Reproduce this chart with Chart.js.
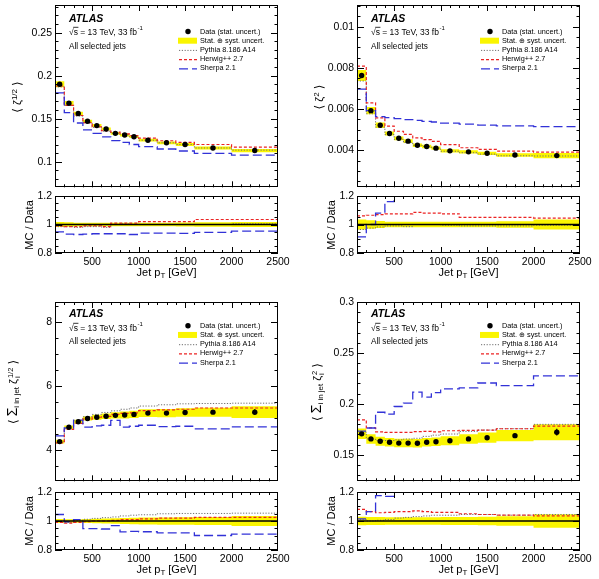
<!DOCTYPE html>
<html><head><meta charset="utf-8">
<script src="https://cdn.jsdelivr.net/npm/chart.js@4.4.0/dist/chart.umd.min.js"></script>
<style>
html,body{margin:0;padding:0;background:#fff;width:599px;height:579px;overflow:hidden;position:relative;font-family:"Liberation Sans",Arial,Helvetica,sans-serif;}
canvas{position:absolute;display:block}
.t{position:absolute;white-space:nowrap;font-size:11px;color:#000;transform:translate(-50%,-50%);line-height:1}
.r{transform:translate(-50%,-50%) rotate(-90deg);}
.t sub{font-size:72%;vertical-align:-0.3em;line-height:0}
.t sup{font-size:72%;vertical-align:0.5em;line-height:0}
.ang{font-family:"DejaVu Sans",sans-serif;font-size:12px}
.big{font-size:14px}
.stk{display:inline-flex;flex-direction:column;vertical-align:middle;font-size:7.5px;line-height:7.5px;text-align:left;margin-left:1px}
</style></head><body>
<script>
// ---------------- DATA ----------------
const ptEdges = [100,200,300,400,500,600,700,800,900,1000,1200,1400,1600,2000,2500];
const xTickValues = [500,1000,1500,2000,2500];
const ratioTickValues = [0.8,1,1.2];

// <zeta^{1/2}>
const zetaHalfTicks = [0.1,0.15,0.2,0.25];
const zetaHalfData = [0.190,0.168,0.156,0.147,0.142,0.138,0.133,0.131,0.129,0.125,0.122,0.120,0.116,0.113];
const zetaHalfStat = [0.0005,0.0004,0.0004,0.0004,0.0004,0.0004,0.0004,0.0004,0.0004,0.0004,0.0004,0.0005,0.0006,0.0008];
const zetaHalfUnc = [0.018,0.015,0.013,0.013,0.012,0.012,0.012,0.012,0.012,0.013,0.013,0.014,0.015,0.017];
const zetaHalfPythia = [0.187,0.1655,0.153,0.145,0.140,0.1355,0.133,0.1315,0.129,0.125,0.122,0.120,0.116,0.1135];
const zetaHalfHerwig = [0.188,0.1655,0.1537,0.1455,0.1406,0.136,0.1343,0.1323,0.1303,0.1275,0.1244,0.1224,0.120,0.117];
const zetaHalfSherpa = [0.180,0.157,0.145,0.137,0.133,0.129,0.1245,0.1225,0.120,0.1175,0.1148,0.1125,0.1096,0.1077];
const zetaHalfRatioPythia = [0.985,0.985,0.98,0.985,0.985,0.98,1.0,1.005,1.0,1.0,1.0,1.0,1.0,1.005];
const zetaHalfRatioHerwig = [0.99,0.985,0.985,0.99,0.99,0.985,1.01,1.01,1.01,1.02,1.02,1.02,1.035,1.035];
const zetaHalfRatioSherpa = [0.948,0.932,0.93,0.932,0.935,0.935,0.935,0.935,0.93,0.94,0.94,0.938,0.945,0.953];

// <zeta^2>
const zetaSqTicks = [0.004,0.006,0.008,0.01];
const zetaSqData = [0.00763,0.00592,0.00521,0.00481,0.00458,0.00444,0.00424,0.00418,0.0041,0.00397,0.00392,0.00385,0.00377,0.00374];
const zetaSqStat = [0.00003,0.00002,0.00002,0.00002,0.00002,0.00002,0.00002,0.00002,0.00002,0.00002,0.00002,0.00002,0.00003,0.00004];
const zetaSqUnc = [0.035,0.03,0.025,0.02,0.02,0.02,0.02,0.02,0.02,0.02,0.02,0.02,0.022,0.035];
const zetaSqPythia = [0.00736,0.00577,0.00512,0.00476,0.00453,0.00437,0.00424,0.00418,0.0041,0.00395,0.00388,0.00381,0.00373,0.00372];
const zetaSqHerwig = [0.00808,0.0063,0.00557,0.00517,0.00492,0.00477,0.0046,0.00451,0.00443,0.00427,0.00412,0.00404,0.00396,0.00391];
const zetaSqSherpa = [0.00697,0.00592,0.00563,0.00558,0.00553,0.00549,0.00545,0.0054,0.00537,0.00532,0.00527,0.00522,0.00518,0.00515];
const zetaSqRatioPythia = [0.965,0.975,0.983,0.99,0.99,0.985,1.0,1.0,1.0,0.995,0.99,0.99,0.99,0.995];
const zetaSqRatioHerwig = [1.06,1.065,1.07,1.075,1.075,1.075,1.085,1.08,1.08,1.075,1.05,1.05,1.05,1.045];
const zetaSqRatioSherpa = [0.913,1.0,1.08,1.16,1.207,1.236,1.285,1.292,1.31,1.34,1.344,1.356,1.374,1.377];

// <sum_i zeta_i^{1/2}>
const sumHalfTicks = [4,6,8];
const sumHalfData = [4.27,4.72,4.89,4.99,5.03,5.06,5.09,5.10,5.12,5.16,5.16,5.18,5.19,5.19];
const sumHalfStat = [0.02,0.015,0.015,0.015,0.015,0.015,0.015,0.015,0.015,0.02,0.025,0.03,0.04,0.09];
const sumHalfUnc = [0.013,0.012,0.012,0.013,0.015,0.017,0.019,0.021,0.022,0.024,0.025,0.026,0.027,0.035];
const sumHalfPythia = [4.27,4.67,4.92,5.05,5.12,5.18,5.23,5.28,5.32,5.38,5.42,5.45,5.46,5.47];
const sumHalfHerwig = [4.23,4.65,4.84,4.97,5.03,5.06,5.12,5.15,5.17,5.24,5.26,5.28,5.32,5.32];
const sumHalfSherpa = [4.45,4.70,4.94,4.72,4.76,4.78,4.93,4.72,4.75,4.78,4.74,4.75,4.67,4.73];
const sumHalfRatioPythia = [1.0,0.99,1.005,1.012,1.018,1.023,1.028,1.035,1.04,1.043,1.05,1.052,1.052,1.054];
const sumHalfRatioHerwig = [0.99,0.985,0.99,0.995,1.0,1.0,1.005,1.01,1.01,1.015,1.02,1.02,1.025,1.025];
const sumHalfRatioSherpa = [1.045,0.995,1.01,0.947,0.947,0.945,0.968,0.925,0.928,0.926,0.918,0.918,0.9,0.91];

// <sum_i zeta_i^2>
const sumSqTicks = [0.15,0.2,0.25,0.3];
const sumSqData = [0.1706,0.1656,0.1633,0.1624,0.1615,0.1615,0.1614,0.1624,0.1628,0.1638,0.1656,0.1668,0.1688,0.1722];
const sumSqStat = [0.0006,0.0005,0.0005,0.0005,0.0005,0.0005,0.0005,0.0005,0.0005,0.0006,0.0007,0.0009,0.0012,0.0033];
const sumSqUnc = [0.03,0.028,0.027,0.026,0.026,0.026,0.026,0.026,0.026,0.027,0.028,0.03,0.033,0.046];
const sumSqPythia = [0.1723,0.1656,0.1641,0.164,0.1647,0.1655,0.1662,0.1681,0.1693,0.1704,0.173,0.1743,0.1756,0.1799];
const sumSqHerwig = [0.1843,0.1764,0.1726,0.1721,0.172,0.172,0.1727,0.173,0.1726,0.1736,0.1739,0.1743,0.1756,0.1782];
const sumSqSherpa = [0.1732,0.1763,0.1918,0.190,0.1974,0.2007,0.2115,0.2066,0.211,0.2148,0.2158,0.2205,0.218,0.2275];
const sumSqRatioPythia = [1.01,1.0,1.005,1.01,1.02,1.025,1.03,1.035,1.04,1.04,1.045,1.045,1.04,1.045];
const sumSqRatioHerwig = [1.08,1.065,1.057,1.06,1.065,1.065,1.07,1.065,1.06,1.06,1.05,1.045,1.04,1.035];
const sumSqRatioSherpa = [1.015,1.065,1.175,1.17,1.222,1.243,1.31,1.272,1.296,1.311,1.303,1.322,1.291,1.321];

const legendLabels = ['Data (stat. uncert.)','Stat. \u2295 syst. uncert.','Pythia 8.186 A14','Herwig++ 2.7','Sherpa 2.1'];

// ---------------- STYLE / LAYOUT ----------------
const FONT = '"Liberation Sans", Arial, Helvetica, sans-serif';
const Y_W = 50, PAD_T = 8, PAD_R = 16, X_H = 30, AREA_W = 223;
const YEL = 'rgb(250,245,0)';
const STY = {
  py:{borderColor:'#6e6e6e', borderWidth:1, borderDash:[1.2,1.6]},
  hw:{borderColor:'rgb(235,35,35)', borderWidth:1.2, borderDash:[3,2]},
  sh:{borderColor:'rgb(50,50,215)', borderWidth:1.3, borderDash:[9,4]}
};

const panels = [
  {left:55, mainTop:5, mainH:183, ratioTop:196, ratioH:57, yMin:0.0703, yMax:0.2821, yMajor:0.05, yMinor:0.01,
   ticks:zetaHalfTicks, data:zetaHalfData, stat:zetaHalfStat, unc:zetaHalfUnc, py:zetaHalfPythia, hw:zetaHalfHerwig, sh:zetaHalfSherpa,
   rpy:zetaHalfRatioPythia, rhw:zetaHalfRatioHerwig, rsh:zetaHalfRatioSherpa, annY:[14,27.3,41.7], legY0:26.5, legDY:9.2,
   title:'<span class="ang">\u27E8</span> \u03B6<sup>1/2</sup> <span class="ang">\u27E9</span>', titleDX:-38},
  {left:357, mainTop:5, mainH:183, ratioTop:196, ratioH:57, yMin:0.0022, yMax:0.01105, yMajor:0.002, yMinor:0.0005,
   ticks:zetaSqTicks, data:zetaSqData, stat:zetaSqStat, unc:zetaSqUnc, py:zetaSqPythia, hw:zetaSqHerwig, sh:zetaSqSherpa,
   rpy:zetaSqRatioPythia, rhw:zetaSqRatioHerwig, rsh:zetaSqRatioSherpa, annY:[14,27.3,41.7], legY0:26.5, legDY:9.2,
   title:'<span class="ang">\u27E8</span> \u03B6<sup>2</sup> <span class="ang">\u27E9</span>', titleDX:-38},
  {left:55, mainTop:302, mainH:180, ratioTop:492, ratioH:58, yMin:3.03, yMax:8.63, yMajor:2, yMinor:0.5,
   ticks:sumHalfTicks, data:sumHalfData, stat:sumHalfStat, unc:sumHalfUnc, py:sumHalfPythia, hw:sumHalfHerwig, sh:sumHalfSherpa,
   rpy:sumHalfRatioPythia, rhw:sumHalfRatioHerwig, rsh:sumHalfRatioSherpa, annY:[12,26.3,39.7], legY0:23.7, legDY:9.25,
   title:'<span class="ang">\u27E8</span> <span class="big">\u03A3</span><sub>i in jet</sub> \u03B6<span class="stk"><span>1/2</span><span>i</span></span> <span class="ang">\u27E9</span>', titleDX:-42},
  {left:357, mainTop:302, mainH:180, ratioTop:492, ratioH:58, yMin:0.124, yMax:0.3, yMajor:0.05, yMinor:0.01,
   ticks:sumSqTicks, data:sumSqData, stat:sumSqStat, unc:sumSqUnc, py:sumSqPythia, hw:sumSqHerwig, sh:sumSqSherpa,
   rpy:sumSqRatioPythia, rhw:sumSqRatioHerwig, rsh:sumSqRatioSherpa, annY:[12,26.3,39.7], legY0:23.7, legDY:9.25,
   title:'<span class="ang">\u27E8</span> <span class="big">\u03A3</span><sub>i in jet</sub> \u03B6<span class="stk"><span>2</span><span>i</span></span> <span class="ang">\u27E9</span>', titleDX:-40}
];

// ---------------- HELPERS ----------------
const binCenters = ptEdges.slice(0,-1).map((e,i)=>(e+ptEdges[i+1])/2);
const ones = binCenters.map(()=>1);
function stepPts(vals){ const p=[]; vals.forEach((v,i)=>{ p.push({x:ptEdges[i],y:v},{x:ptEdges[i+1],y:v}); }); return p; }
function bandPts(center, unc){
  const up=[], lo=[];
  center.forEach((c,i)=>{
    up.push({x:ptEdges[i],y:c*(1+unc[i])},{x:ptEdges[i+1],y:c*(1+unc[i])});
    lo.push({x:ptEdges[i],y:c*(1-unc[i])},{x:ptEdges[i+1],y:c*(1-unc[i])});
  });
  return up.concat(lo.reverse());
}
function lineDS(vals, sty, order){ return Object.assign({type:'line', data:stepPts(vals), pointRadius:0, fill:false, tension:0, clip:0, order:order}, sty); }
function bandDS(center, unc){ return {type:'line', data:bandPts(center,unc), pointRadius:0, fill:'shape', backgroundColor:YEL, borderColor:'rgba(0,0,0,0)', borderWidth:0, tension:0, clip:0, order:10}; }

function makeCanvas(areaLeft, areaTop, areaH, bottomExtra){
  const c = document.createElement('canvas');
  const w = Y_W + AREA_W + PAD_R, h = PAD_T + areaH + bottomExtra;
  c.width = w; c.height = h;
  c.style.left = (areaLeft - Y_W) + 'px'; c.style.top = (areaTop - PAD_T) + 'px';
  c.style.width = w + 'px'; c.style.height = h + 'px';
  document.body.appendChild(c);
  return c;
}
function addText(html, x, y, rot){
  const d = document.createElement('div');
  d.className = 't' + (rot ? ' r' : '');
  d.innerHTML = html; d.style.left = x + 'px'; d.style.top = y + 'px';
  document.body.appendChild(d);
}

function framePlugin(cfg){
  return { id:'frame', afterDatasetsDraw(chart){
    const {ctx, chartArea:a, scales:{x,y}} = chart;
    ctx.save(); ctx.strokeStyle='#000'; ctx.lineWidth=1; ctx.setLineDash([]);
    ctx.beginPath();
    for (let v=200; v<2500; v+=100){
      const len = (v%500===0) ? cfg.xMaj : cfg.xMin;
      const px = Math.round(x.getPixelForValue(v)) + 0.5;
      ctx.moveTo(px, a.bottom); ctx.lineTo(px, a.bottom-len);
      ctx.moveTo(px, a.top); ctx.lineTo(px, a.top+len);
    }
    const k0 = Math.ceil(y.min/cfg.yMinor - 1e-6), k1 = Math.floor(y.max/cfg.yMinor + 1e-6);
    for (let k=k0; k<=k1; k++){
      const v = k*cfg.yMinor;
      const r = v/cfg.yMajor; const maj = Math.abs(r-Math.round(r))<1e-6;
      const len = maj ? cfg.yMaj : cfg.yMin;
      const py = Math.round(y.getPixelForValue(v)) + 0.5;
      ctx.moveTo(a.left, py); ctx.lineTo(a.left+len, py);
      ctx.moveTo(a.right, py); ctx.lineTo(a.right-len, py);
    }
    ctx.stroke();
    ctx.strokeRect(Math.round(a.left)+0.5, Math.round(a.top)+0.5, Math.round(a.right-a.left)-1, Math.round(a.bottom-a.top)-1);
    ctx.restore();
  }};
}
function errPlugin(vals, errs){
  return { id:'errs', afterDatasetsDraw(chart){
    const {ctx, scales:{x,y}} = chart;
    ctx.save(); ctx.strokeStyle='#000'; ctx.lineWidth=1.2; ctx.setLineDash([]);
    ctx.beginPath();
    vals.forEach((v,i)=>{
      const px = x.getPixelForValue(binCenters[i]);
      ctx.moveTo(px, y.getPixelForValue(v+errs[i])); ctx.lineTo(px, y.getPixelForValue(v-errs[i]));
    });
    ctx.stroke(); ctx.restore();
  }};
}
function annPlugin(p){
  return { id:'ann', afterDraw(chart){
    const {ctx, chartArea:a} = chart;
    ctx.save(); ctx.fillStyle='#000'; ctx.strokeStyle='#000'; ctx.textBaseline='middle'; ctx.textAlign='left';
    const x0 = a.left + 14;
    ctx.font = 'italic bold 10.5px ' + FONT; ctx.fillText('ATLAS', x0, a.top + p.annY[0]);
    ctx.font = '8.5px ' + FONT;
    let x = x0; const y = a.top + p.annY[1];
    ctx.fillText('\u221A', x, y); x += ctx.measureText('\u221A').width;
    ctx.fillText('s', x, y); const sw = ctx.measureText('s').width;
    ctx.beginPath(); ctx.lineWidth = 0.8; ctx.moveTo(x-0.5, y-5); ctx.lineTo(x+sw+0.5, y-5); ctx.stroke();
    x += sw;
    const t = ' = 13 TeV, 33 fb'; ctx.fillText(t, x, y); x += ctx.measureText(t).width;
    ctx.font = '6px ' + FONT; ctx.fillText('-1', x+0.5, y-3.5);
    ctx.font = '8.2px ' + FONT; ctx.fillText('All selected jets', x0, a.top + p.annY[2]);
    // legend
    ctx.font = '7.3px ' + FONT;
    const lx = a.left + 145;
    legendLabels.forEach((lab,i)=>{
      const ly = a.top + p.legY0 + i*p.legDY;
      ctx.save();
      if (i===0){ ctx.beginPath(); ctx.arc(a.left+133, ly, 2.7, 0, Math.PI*2); ctx.fillStyle='#000'; ctx.fill(); }
      else if (i===1){ ctx.fillStyle = YEL; ctx.fillRect(a.left+123, ly-3, 19, 6); }
      else {
        const s = [STY.py, STY.hw, STY.sh][i-2];
        ctx.strokeStyle = s.borderColor; ctx.lineWidth = s.borderWidth; ctx.setLineDash(s.borderDash);
        ctx.beginPath(); ctx.moveTo(a.left+124, ly+0.5); ctx.lineTo(a.left+142, ly+0.5); ctx.stroke();
      }
      ctx.restore();
      ctx.fillText(lab, lx, ly);
    });
    ctx.restore();
  }};
}

function yScale(min, max, tickVals){
  return { type:'linear', min:min, max:max, bounds:'data',
    afterBuildTicks: s => { s.ticks = tickVals.map(v=>({value:v})); },
    ticks:{ color:'#000', font:{family:FONT, size:10.5}, padding:3, autoSkip:false, callback:(v)=>String(v) },
    grid:{display:false, drawTicks:false}, border:{display:false},
    afterFit: s => { s.width = Y_W; s.paddingTop = 0; s.paddingBottom = 0; } };
}

Chart.defaults.font.family = FONT;

panels.forEach(p=>{
  // main panel
  const cm = makeCanvas(p.left, p.mainTop, p.mainH, 2);
  new Chart(cm, {
    type:'line',
    data:{ datasets:[
      {type:'line', data:binCenters.map((x,i)=>({x:x, y:p.data[i]})), showLine:false, pointRadius:2.7, pointHoverRadius:2.7,
       pointBackgroundColor:'#000', pointBorderColor:'#000', pointBorderWidth:0, order:0, clip:0},
      lineDS(p.py, STY.py, 3), lineDS(p.hw, STY.hw, 2), lineDS(p.sh, STY.sh, 1),
      bandDS(p.data, p.unc)
    ]},
    options:{ responsive:false, animation:false, devicePixelRatio:1, events:[],
      layout:{padding:{left:0, right:PAD_R, top:PAD_T, bottom:2}},
      plugins:{legend:{display:false}, tooltip:{enabled:false}},
      scales:{ x:{type:'linear', min:100, max:2500, display:false}, y:yScale(p.yMin, p.yMax, p.ticks) } },
    plugins:[ errPlugin(p.data, p.stat), framePlugin({xMaj:6, xMin:3, yMaj:7, yMin:3.5, yMajor:p.yMajor, yMinor:p.yMinor}), annPlugin(p) ]
  });
  // ratio panel
  const cr = makeCanvas(p.left, p.ratioTop, p.ratioH, X_H);
  new Chart(cr, {
    type:'line',
    data:{ datasets:[
      lineDS(ones, {borderColor:'#000', borderWidth:1.5, borderDash:[]}, 0),
      lineDS(p.rpy, STY.py, 3), lineDS(p.rhw, STY.hw, 2), lineDS(p.rsh, STY.sh, 1),
      bandDS(ones, p.unc)
    ]},
    options:{ responsive:false, animation:false, devicePixelRatio:1, events:[],
      layout:{padding:{left:0, right:PAD_R, top:PAD_T, bottom:0}},
      plugins:{legend:{display:false}, tooltip:{enabled:false}},
      scales:{
        x:{ type:'linear', min:100, max:2500, bounds:'data',
          afterBuildTicks: s => { s.ticks = xTickValues.map(v=>({value:v})); },
          ticks:{color:'#000', font:{family:FONT, size:10.5}, padding:3, autoSkip:false, maxRotation:0, minRotation:0, callback:(v)=>String(v)},
          grid:{display:false, drawTicks:false}, border:{display:false},
          afterFit: s => { s.height = X_H; s.paddingLeft = 0; s.paddingRight = 0; } },
        y: yScale(0.8, 1.2, ratioTickValues) } },
    plugins:[ framePlugin({xMaj:6, xMin:3, yMaj:7, yMin:3.5, yMajor:0.2, yMinor:0.05}) ]
  });
  // titles
  addText(p.title, p.left + p.titleDX, p.mainTop + p.mainH/2, true);
  addText('MC / Data', p.left - 26, p.ratioTop + p.ratioH/2, true);
  addText('Jet p<sub>T</sub> [GeV]', p.left + AREA_W/2, p.ratioTop + p.ratioH + 19, false);
});
</script>
</body></html>
